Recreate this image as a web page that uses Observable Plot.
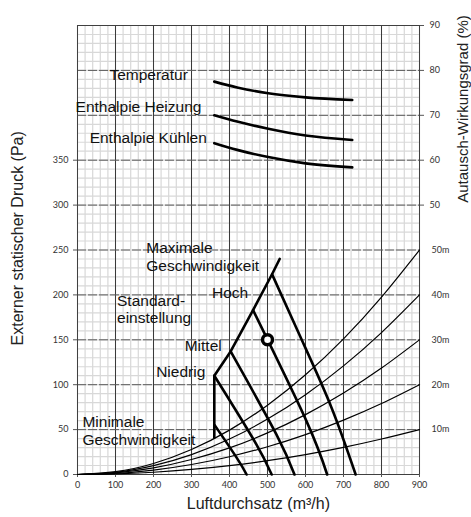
<!DOCTYPE html>
<html><head><meta charset="utf-8">
<script src="https://cdn.jsdelivr.net/npm/d3@7"></script>
<script src="https://cdn.jsdelivr.net/npm/@observablehq/plot@0.6"></script>
<style>html,body{margin:0;padding:0;background:#fff}#chart svg{display:block}</style>
</head><body><div id="chart"></div>
<script>
// ---- data ----
const flowTicks = [0,100,200,300,400,500,600,700,800,900];
const pressureTicks = [0,50,100,150,200,250,300,350];
const effTicks = [50,60,70,80,90];
const lengthTicks = ["10m","20m","30m","40m","50m"];
const lengthTickPressure = [50,100,150,200,250];

// system (duct) curves, pressure (Pa) at flow grid
const sysFlow = [0,100,200,300,400,500,600,700,800,900];
const sys10m = [0,0.6,2.5,5.6,9.9,15.4,22.2,30.2,39.5,50];
const sys20m = [0,1.2,4.9,11.1,19.8,30.9,44.4,60.5,79,100];
const sys30m = [0,1.9,7.4,16.7,29.6,46.3,66.7,90.7,118.5,150];
const sys40m = [0,2.5,9.9,22.2,39.5,61.7,88.9,121,158,200];
const sys50m = [0,3.1,12.3,27.8,49.4,77.2,111,151,197.5,250];

// fan curves [flow, pressure]
const fanMinimal = [[361,55],[420,18],[445,0]];
const fanNiedrig = [[360,110],[466,37],[511,0]];
const fanMittel = [[403,137],[523,45],[571,0]];
const fanHoch = [[462,183],[602,60],[657,0]];
const fanMaximal = [[512,223],[590,150],[668,75],[732,0]];
const envelope = [[360,41],[360,110],[403,137],[462,183],[512,223],[532,240]];
const operatingPoint = [[500,150]];

// exchange efficiency (%) vs flow
const effFlow = [360,420,502,600,723];
const effTemperatur = [77.5,76.2,74.9,74.0,73.4];
const effHeizung = [70.0,68.6,67.0,65.5,64.5];
const effKuehlen = [63.8,62.3,60.7,59.3,58.4];

// annotations: text, flow, pressure of baseline-left
const labelText = ["Temperatur","Enthalpie Heizung","Enthalpie Kühlen","Maximale","Geschwindigkeit","Hoch","Standard-","einstellung","Mittel","Niedrig","Minimale","Geschwindigkeit"];
const labelFlow = [84,-5,32,181,181,354,104,104,282,207,13,13];
const labelPressure = [438.8,403.4,368.6,247.2,226.4,196.8,187.4,168.2,137.3,108.4,52.7,32.3];

// axis titles: text, flow, pressure of anchor
const titleText = ["Externer statischer Druck (Pa)","Autausch-Wirkungsgrad (%)","Luftdurchsatz (m³/h)"];
const titleFlow = [-158,1015,476];
const titlePressure = [263,407,-38];

// ---- build ----
const effToPa = e => 300 + (e - 50) * 5;
const paToEff = p => 50 + (p - 300) / 5;

const sysSeries = [["10m",sys10m],["20m",sys20m],["30m",sys30m],["40m",sys40m],["50m",sys50m]]
  .flatMap(([name, arr]) => arr.map((p, i) => ({name, q: sysFlow[i], p})));
const fanSeries = [["min",fanMinimal],["nie",fanNiedrig],["mit",fanMittel],["hoch",fanHoch],["max",fanMaximal]]
  .flatMap(([name, arr]) => arr.map(([q, p]) => ({name, q, p})));
const effSeries = [["T",effTemperatur],["H",effHeizung],["K",effKuehlen]]
  .flatMap(([name, arr]) => arr.map((e, i) => ({name, q: effFlow[i], p: effToPa(e)})));
const labels = labelText.map((t, i) => ({t, q: labelFlow[i], p: labelPressure[i]}));
const titles = titleText.map((t, i) => ({t, q: titleFlow[i], p: titlePressure[i]}));

const txtFont = "'Liberation Sans', Arial, sans-serif";

const chart = Plot.plot({
  width: 471, height: 517,
  marginLeft: 77, marginRight: 52, marginTop: 25, marginBottom: 43,
  style: {fontFamily: "Lato, sans-serif", fontSize: "9px", color: "#333", background: "#fff", overflow: "visible"},
  x: {domain: [0, 900]},
  y: {domain: [0, 500]},
  marks: [
    Plot.gridX(d3.range(0, 901, 20), {stroke: "#d8d8d8", strokeOpacity: 1, strokeWidth: 1.2}),
    Plot.gridY(d3.range(0, 501, 10), {stroke: "#d8d8d8", strokeOpacity: 1, strokeWidth: 1.2}),
    Plot.gridX(d3.range(100, 900, 100), {stroke: "#3a3a3a", strokeOpacity: 1}),
    Plot.gridY(d3.range(50, 500, 50), {stroke: "#5a5a5a", strokeOpacity: 1, strokeDasharray: "9,2"}),
    Plot.frame({stroke: "#404040"}),
    Plot.axisX(flowTicks, {tickSize: 3, tickPadding: 4, label: null, stroke: "#555"}),
    Plot.axisY(pressureTicks, {anchor: "left", tickSize: 4, tickPadding: 5, label: null, stroke: "#555"}),
    Plot.axisY(effTicks.map(effToPa), {anchor: "right", tickSize: 4, tickPadding: 6, label: null, stroke: "#555", tickFormat: p => String(paToEff(p))}),
    Plot.axisY(lengthTickPressure, {anchor: "right", tickSize: 0, tickPadding: 12, label: null, tickFormat: p => lengthTicks[lengthTickPressure.indexOf(p)]}),
    Plot.line(sysSeries, {x: "q", y: "p", z: "name", curve: "natural", stroke: "#000", strokeWidth: 1.2}),
    Plot.line(fanSeries, {x: "q", y: "p", z: "name", curve: "natural", stroke: "#000", strokeWidth: 2.6}),
    Plot.line(envelope, {x: d => d[0], y: d => d[1], curve: "linear", stroke: "#000", strokeWidth: 2.6}),
    Plot.line(effSeries, {x: "q", y: "p", z: "name", curve: "monotone-x", stroke: "#000", strokeWidth: 2.6}),
    Plot.dot(operatingPoint, {x: d => d[0], y: d => d[1], r: 5, stroke: "#000", strokeWidth: 3.5, fill: "#fff"}),
    Plot.text(labels, {x: "q", y: "p", text: "t", textAnchor: "start", lineAnchor: "bottom", fontSize: 15.5, fontFamily: txtFont, fill: "#111"}),
    Plot.text(titles.slice(0, 1), {x: "q", y: "p", text: "t", rotate: -90, textAnchor: "middle", lineAnchor: "middle", fontSize: 16, fontFamily: txtFont, fill: "#222"}),
    Plot.text(titles.slice(1, 2), {x: "q", y: "p", text: "t", rotate: -90, textAnchor: "middle", lineAnchor: "middle", fontSize: 15, fontFamily: txtFont, fill: "#222"}),
    Plot.text(titles.slice(2), {x: "q", y: "p", text: "t", textAnchor: "middle", lineAnchor: "bottom", fontSize: 16, fontFamily: txtFont, fill: "#222"})
  ]
});
document.getElementById("chart").appendChild(chart);
</script>
</body></html>
